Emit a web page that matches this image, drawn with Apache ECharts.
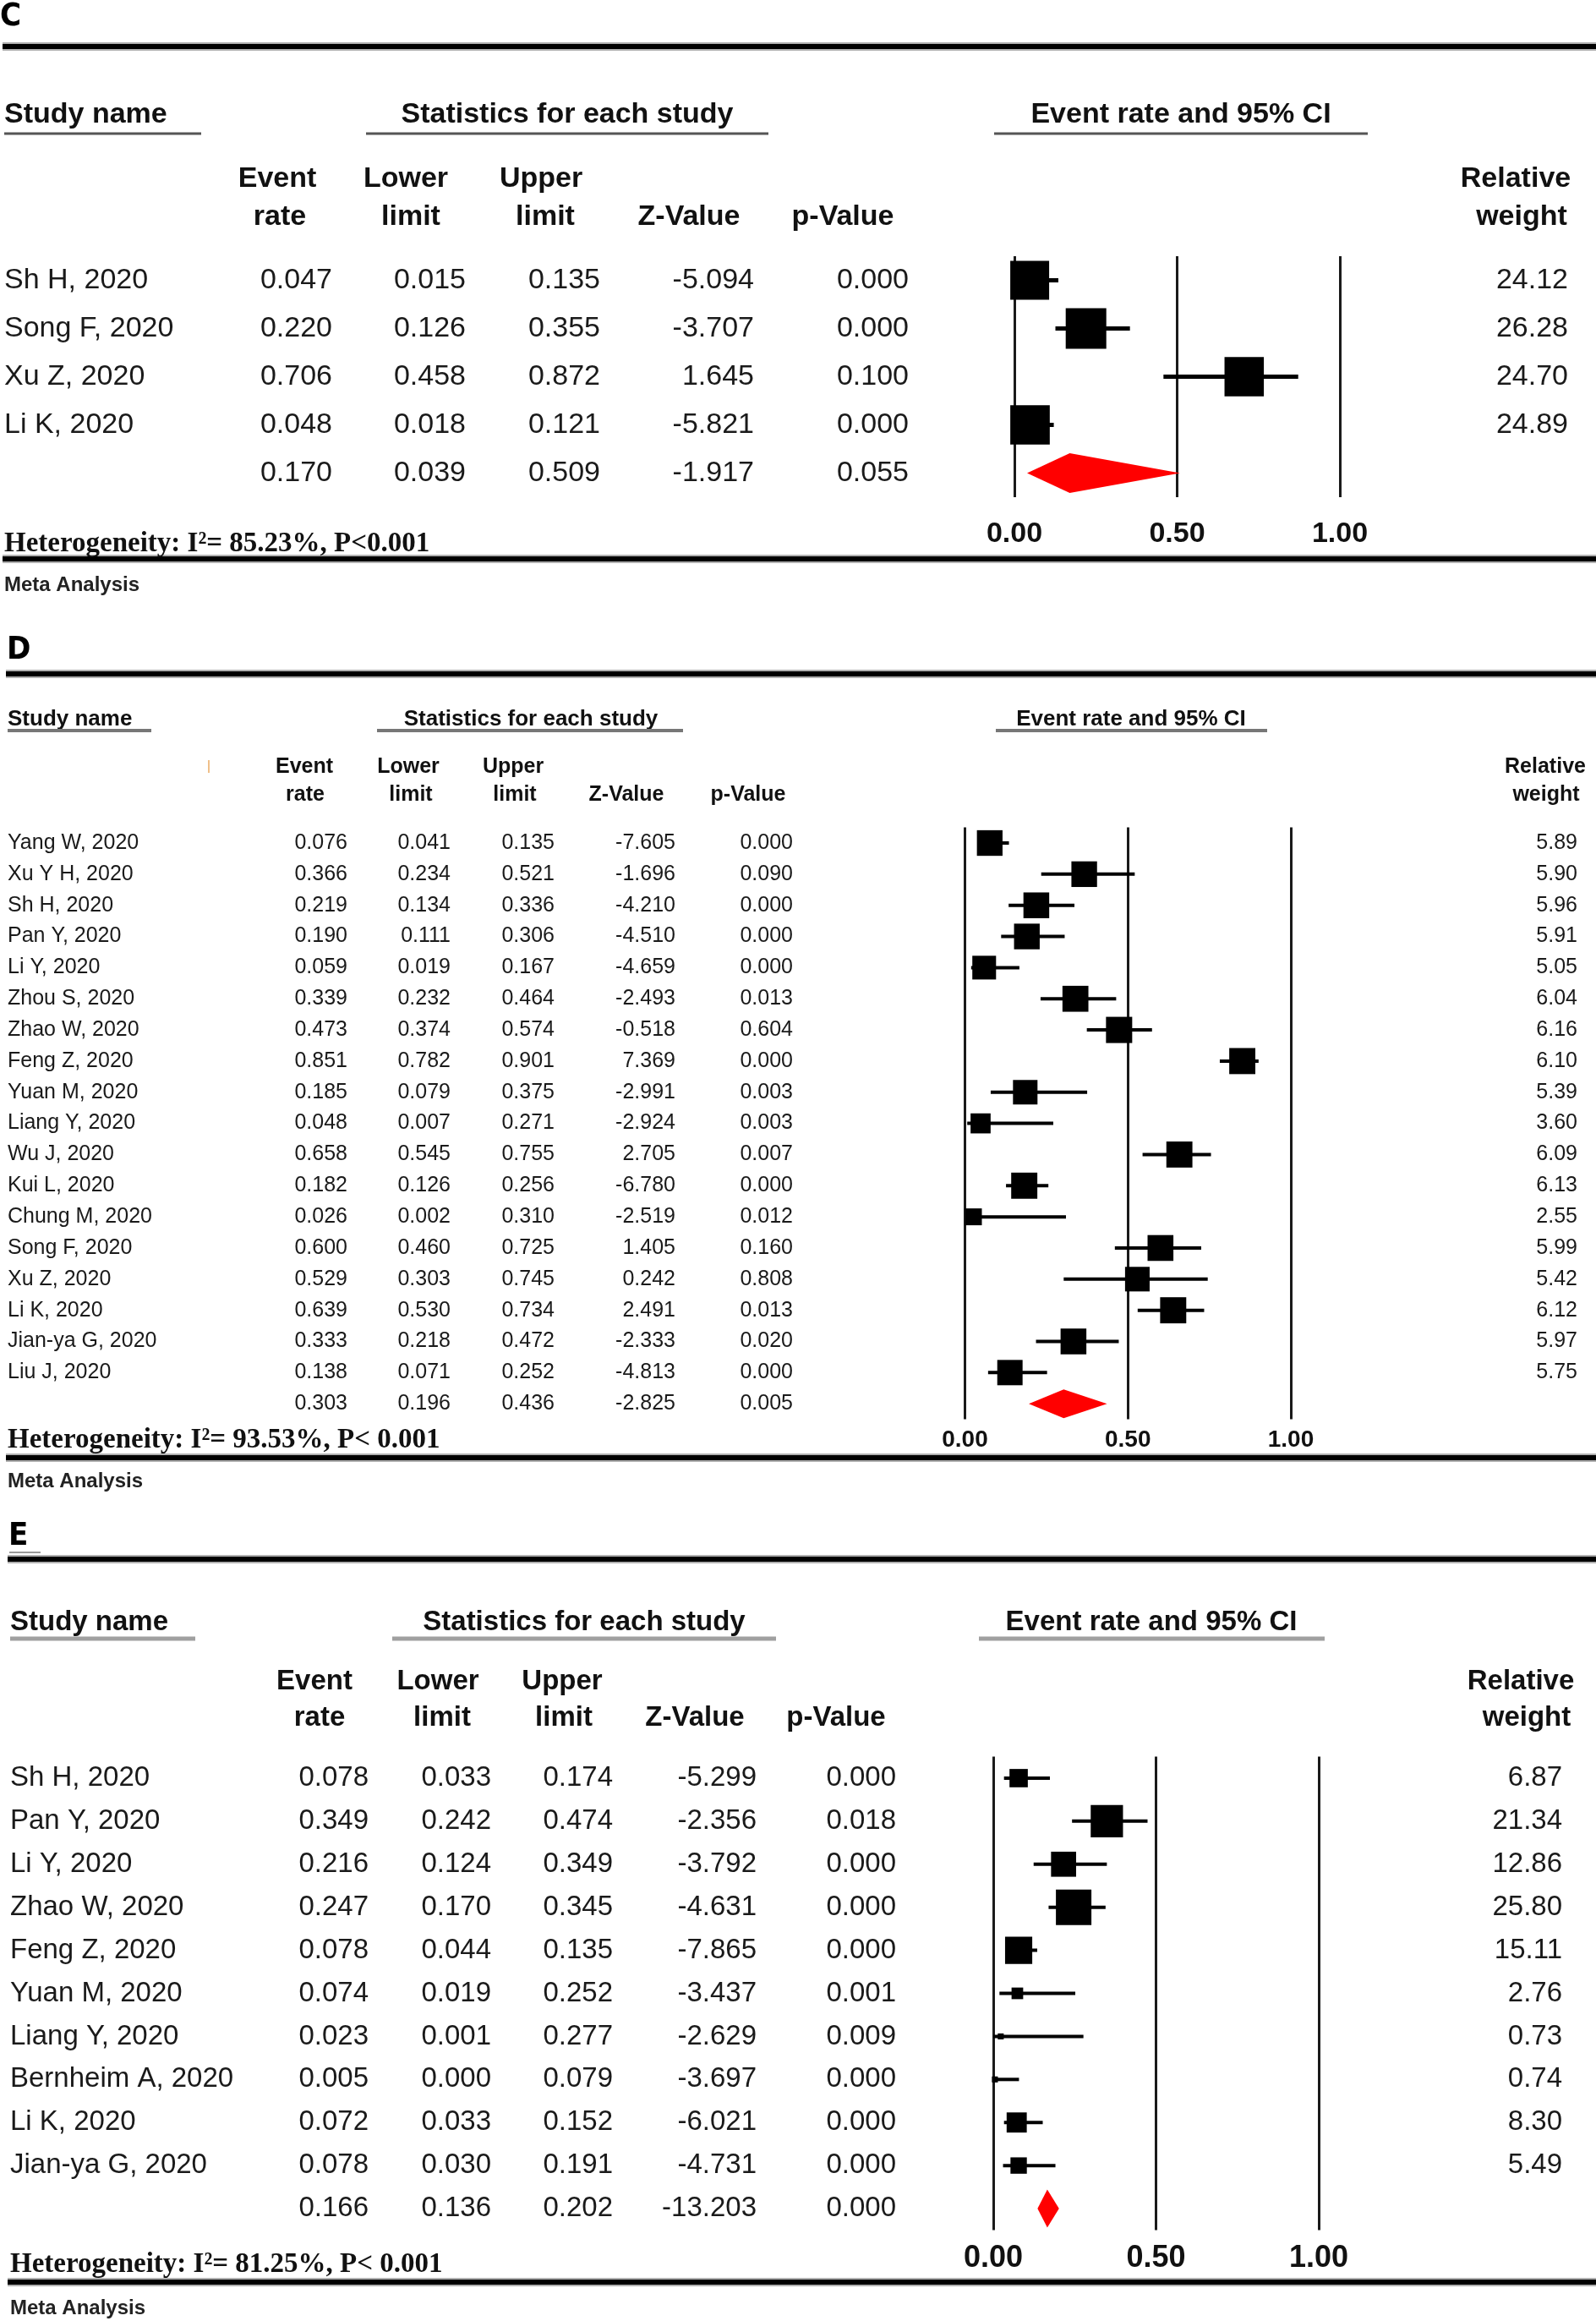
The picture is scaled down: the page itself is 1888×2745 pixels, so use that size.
<!DOCTYPE html>
<html><head><meta charset="utf-8">
<script src="https://cdn.jsdelivr.net/npm/echarts@6/dist/echarts.min.js"></script>
<style>html,body{margin:0;padding:0;background:#fff}#chart{width:1888px;height:2745px}</style>
</head><body><div id="chart"></div>
<script>
// ---------------- DATA ----------------
// In every statistic array the last entry is the pooled (summary) estimate.
const cStudies = ['Sh H, 2020','Song F, 2020','Xu Z, 2020','Li K, 2020'];
const cEventRate  = [0.047,0.220,0.706,0.048,0.170];
const cLowerLimit = [0.015,0.126,0.458,0.018,0.039];
const cUpperLimit = [0.135,0.355,0.872,0.121,0.509];
const cZValue     = [-5.094,-3.707,1.645,-5.821,-1.917];
const cPValue     = [0.000,0.000,0.100,0.000,0.055];
const cWeight     = [24.12,26.28,24.70,24.89];
const cHeterogeneity = 'Heterogeneity: I\u00B2= 85.23%, P<0.001';

const dStudies = ['Yang W, 2020','Xu Y H, 2020','Sh H, 2020','Pan Y, 2020','Li Y, 2020','Zhou S, 2020','Zhao W, 2020','Feng Z, 2020','Yuan M, 2020','Liang Y, 2020','Wu J, 2020','Kui L, 2020','Chung M, 2020','Song F, 2020','Xu Z, 2020','Li K, 2020','Jian-ya G, 2020','Liu J, 2020'];
const dEventRate  = [0.076,0.366,0.219,0.190,0.059,0.339,0.473,0.851,0.185,0.048,0.658,0.182,0.026,0.600,0.529,0.639,0.333,0.138,0.303];
const dLowerLimit = [0.041,0.234,0.134,0.111,0.019,0.232,0.374,0.782,0.079,0.007,0.545,0.126,0.002,0.460,0.303,0.530,0.218,0.071,0.196];
const dUpperLimit = [0.135,0.521,0.336,0.306,0.167,0.464,0.574,0.901,0.375,0.271,0.755,0.256,0.310,0.725,0.745,0.734,0.472,0.252,0.436];
const dZValue     = [-7.605,-1.696,-4.210,-4.510,-4.659,-2.493,-0.518,7.369,-2.991,-2.924,2.705,-6.780,-2.519,1.405,0.242,2.491,-2.333,-4.813,-2.825];
const dPValue     = [0.000,0.090,0.000,0.000,0.000,0.013,0.604,0.000,0.003,0.003,0.007,0.000,0.012,0.160,0.808,0.013,0.020,0.000,0.005];
const dWeight     = [5.89,5.90,5.96,5.91,5.05,6.04,6.16,6.10,5.39,3.60,6.09,6.13,2.55,5.99,5.42,6.12,5.97,5.75];
const dHeterogeneity = 'Heterogeneity: I\u00B2= 93.53%, P< 0.001';

const eStudies = ['Sh H, 2020','Pan Y, 2020','Li Y, 2020','Zhao W, 2020','Feng Z, 2020','Yuan M, 2020','Liang Y, 2020','Bernheim A, 2020','Li K, 2020','Jian-ya G, 2020'];
const eEventRate  = [0.078,0.349,0.216,0.247,0.078,0.074,0.023,0.005,0.072,0.078,0.166];
const eLowerLimit = [0.033,0.242,0.124,0.170,0.044,0.019,0.001,0.000,0.033,0.030,0.136];
const eUpperLimit = [0.174,0.474,0.349,0.345,0.135,0.252,0.277,0.079,0.152,0.191,0.202];
const eZValue     = [-5.299,-2.356,-3.792,-4.631,-7.865,-3.437,-2.629,-3.697,-6.021,-4.731,-13.203];
const ePValue     = [0.000,0.018,0.000,0.000,0.000,0.001,0.009,0.000,0.000,0.000,0.000];
const eWeight     = [6.87,21.34,12.86,25.80,15.11,2.76,0.73,0.74,8.30,5.49];
const eHeterogeneity = 'Heterogeneity: I\u00B2= 81.25%, P< 0.001';

const panelLetters = ['C','D','E'];
const groupTitles  = ['Study name','Statistics for each study','Event rate and 95% CI'];
const headerRow1   = ['Event','Lower','Upper','','','Relative'];
const headerRow2   = ['rate','limit','limit','Z-Value','p-Value','weight'];
const footerLabel  = 'Meta Analysis';
const axisMin = 0, axisMax = 1, axisStep = 0.5;

// ---------------- STYLE / LAYOUT ----------------
const SANS = '"Liberation Sans", Arial, Helvetica, sans-serif';
const SERIF = '"Liberation Serif", "Times New Roman", serif';
const COND = '"DejaVu Sans Condensed", "Liberation Sans Narrow", "DejaVu Sans", sans-serif';

const layouts = [
  { letterY:20, letterX:0, topLine:55, bottomLine:661, lineX0:3,
    titleY:136, titleFont:34, ulY:158, ulW:3, ulColor:'#555',
    titleX:[5,671,1397], ulX:[[5,238],[433,909],[1176,1618]],
    hdrY:[212,257], hdrFont:34, hdrX1:[328,480,640,0,0,1793], hdrX2:[331,486,645,815,997,1800],
    nameX:5, colR:[393,551,710,892,1075,1855], font:34,
    grid:{left:1200, top:303, width:385, height:285},
    maxBox:48, diamondH:47, whisker:5, tickFont:34, tickMargin:27,
    hetY:643, hetFont:33, metaY:692, metaFont:24 },
  { letterY:769, letterX:8, topLine:797, bottomLine:1724, lineX0:7,
    titleY:851, titleFont:26, ulY:864, ulW:4, ulColor:'#777',
    titleX:[9,628,1338], ulX:[[9,179],[446,808],[1178,1499]],
    hdrY:[907,940], hdrFont:25, hdrX1:[360,483,607,0,0,1828], hdrX2:[361,486,609,741,885,1829],
    nameX:9, colR:[411,533,656,799,938,1866], font:25,
    grid:{left:1141.5, top:978.6, width:385.5, height:700},
    maxBox:31, diamondH:34, whisker:4, tickFont:28, tickMargin:11,
    hetY:1703, hetFont:33, metaY:1752, metaFont:24 },
  { letterY:1817, letterX:10, topLine:1844, bottomLine:2699, lineX0:9,
    titleY:1919, titleFont:33, ulY:1938, ulW:5, ulColor:'#a0a0a0',
    titleX:[12,691,1362], ulX:[[12,231],[464,918],[1158,1567]],
    hdrY:[1989,2032], hdrFont:33, hdrX1:[372,518,665,0,0,1799], hdrX2:[378,523,667,822,989,1806],
    nameX:12, colR:[436,581,725,895,1060,1848], font:33,
    grid:{left:1175, top:2077.5, width:385, height:560},
    maxBox:42, diamondH:45, whisker:4, tickFont:36, tickMargin:16,
    hetY:2678, hetFont:33, metaY:2730, metaFont:24 }
];

const panels = [
  {studies:cStudies, ev:cEventRate, lo:cLowerLimit, up:cUpperLimit, z:cZValue, p:cPValue, w:cWeight, het:cHeterogeneity},
  {studies:dStudies, ev:dEventRate, lo:dLowerLimit, up:dUpperLimit, z:dZValue, p:dPValue, w:dWeight, het:dHeterogeneity},
  {studies:eStudies, ev:eEventRate, lo:eLowerLimit, up:eUpperLimit, z:eZValue, p:ePValue, w:eWeight, het:eHeterogeneity}
];

// ---------------- HELPERS ----------------
function txt(text, x, y, font, align, vAlign, fill) {
  return { type:'text', silent:true, style:{ text:text, x:x, y:y, font:font, fill:fill||'#111',
    textAlign:align||'left', align:align||'left', textVerticalAlign:vAlign||'middle', verticalAlign:vAlign||'middle' } };
}
function seg(x1,y1,x2,y2,w,c) {
  return { type:'line', silent:true, shape:{x1:x1,y1:y1,x2:x2,y2:y2}, style:{stroke:c, lineWidth:w} };
}

const grids = [], xAxes = [], yAxes = [], series = [], graphics = [];

panels.forEach(function(P, k) {
  const L = layouts[k];
  const rowCats = P.studies.concat(['']);
  grids.push(Object.assign({containLabel:false}, L.grid));
  xAxes.push({ type:'value', gridIndex:k, min:axisMin, max:axisMax, interval:axisStep,
    axisLine:{show:false}, axisTick:{show:false},
    splitLine:{show:true, lineStyle:{color:'#1a1a1a', width:3}},
    axisLabel:{ show:true, margin:L.tickMargin, fontSize:L.tickFont, fontWeight:'bold', fontFamily:SANS, color:'#111',
      formatter:function(v){ return v.toFixed(2); } } });
  yAxes.push({ type:'category', gridIndex:k, data:rowCats, inverse:true, show:false });

  const maxW = Math.max.apply(null, P.w);
  // forest marks
  series.push({
    type:'custom', xAxisIndex:k, yAxisIndex:k, clip:false, silent:true,
    encode:{x:0, y:1},
    data: P.ev.map(function(v,i){ return [v, i, P.lo[i], P.up[i]]; }),
    renderItem: function(params, api) {
      const i = params.dataIndex;
      const row = api.value(1);
      const c = api.coord([api.value(0), row]);
      const a = api.coord([api.value(2), row]);
      const b = api.coord([api.value(3), row]);
      if (i < P.w.length) {
        const s = L.maxBox * Math.sqrt(P.w[i] / maxW);
        return { type:'group', children:[
          { type:'line', shape:{x1:a[0], y1:a[1], x2:b[0], y2:b[1]}, style:{stroke:'#000', lineWidth:L.whisker} },
          { type:'rect', shape:{x:c[0]-s/2, y:c[1]-s/2, width:s, height:s}, style:{fill:'#000'} }
        ]};
      }
      const h = L.diamondH / 2;
      return { type:'polygon', shape:{points:[[a[0],a[1]],[c[0],c[1]-h],[b[0],b[1]],[c[0],c[1]+h]]}, style:{fill:'#ff0000'} };
    }
  });
  // table text (rows positioned by the category axis)
  series.push({
    type:'custom', xAxisIndex:k, yAxisIndex:k, clip:false, silent:true,
    encode:{x:0, y:1},
    data: P.ev.map(function(v,i){ return [axisMin, i]; }),
    renderItem: function(params, api) {
      const i = params.dataIndex;
      const y = api.coord([axisMin, api.value(1)])[1];
      const f = L.font + 'px ' + SANS;
      const vals = [P.ev[i].toFixed(3), P.lo[i].toFixed(3), P.up[i].toFixed(3), P.z[i].toFixed(3), P.p[i].toFixed(3),
        i < P.w.length ? P.w[i].toFixed(2) : ''];
      const kids = [];
      if (i < P.studies.length) kids.push(txt(P.studies[i], L.nameX, y, f, 'left', 'middle', '#1a1a1a'));
      vals.forEach(function(s, j){ if (s) kids.push(txt(s, L.colR[j], y, f, 'right', 'middle', '#1a1a1a')); });
      return { type:'group', children:kids };
    }
  });

  // static furniture
  graphics.push(txt(panelLetters[k], L.letterX, L.letterY, 'bold 38px ' + COND, 'left', 'middle', '#000'));
  graphics.push(seg(L.lineX0, L.topLine, 1888, L.topLine, 10, '#b0b0b0'));
  graphics.push(seg(L.lineX0, L.topLine, 1888, L.topLine, 6, '#000'));
  graphics.push(seg(L.lineX0, L.bottomLine, 1888, L.bottomLine, 10, '#b0b0b0'));
  graphics.push(seg(L.lineX0, L.bottomLine, 1888, L.bottomLine, 6, '#000'));
  const tf = 'bold ' + L.titleFont + 'px ' + SANS;
  graphics.push(txt(groupTitles[0], L.titleX[0], L.titleY, tf, 'left'));
  graphics.push(txt(groupTitles[1], L.titleX[1], L.titleY, tf, 'center'));
  graphics.push(txt(groupTitles[2], L.titleX[2], L.titleY, tf, 'center'));
  L.ulX.forEach(function(u){ graphics.push(seg(u[0], L.ulY, u[1], L.ulY, L.ulW, L.ulColor)); });
  const hf = 'bold ' + L.hdrFont + 'px ' + SANS;
  headerRow1.forEach(function(h, j){ if (h) graphics.push(txt(h, L.hdrX1[j], L.hdrY[0], hf, 'center')); });
  headerRow2.forEach(function(h, j){ if (h) graphics.push(txt(h, L.hdrX2[j], L.hdrY[1], hf, 'center')); });
  graphics.push(txt(P.het, L.nameX, L.hetY, 'bold ' + L.hetFont + 'px ' + SERIF, 'left', 'middle', '#111'));
  graphics.push(txt(footerLabel, L.nameX, L.metaY, 'bold ' + L.metaFont + 'px ' + SANS, 'left', 'middle', '#222'));
});
// small artefacts of the original figure
graphics.push(seg(247, 899, 247, 914, 2, '#f0c08a'));
graphics.push(seg(11, 1836, 48, 1836, 2, '#999'));

const chart = echarts.init(document.getElementById('chart'), null, {renderer:'canvas'});
chart.setOption({
  backgroundColor:'#ffffff',
  animation:false,
  grid:grids, xAxis:xAxes, yAxis:yAxes, series:series,
  graphic:{ elements:graphics }
});
</script></body></html>
